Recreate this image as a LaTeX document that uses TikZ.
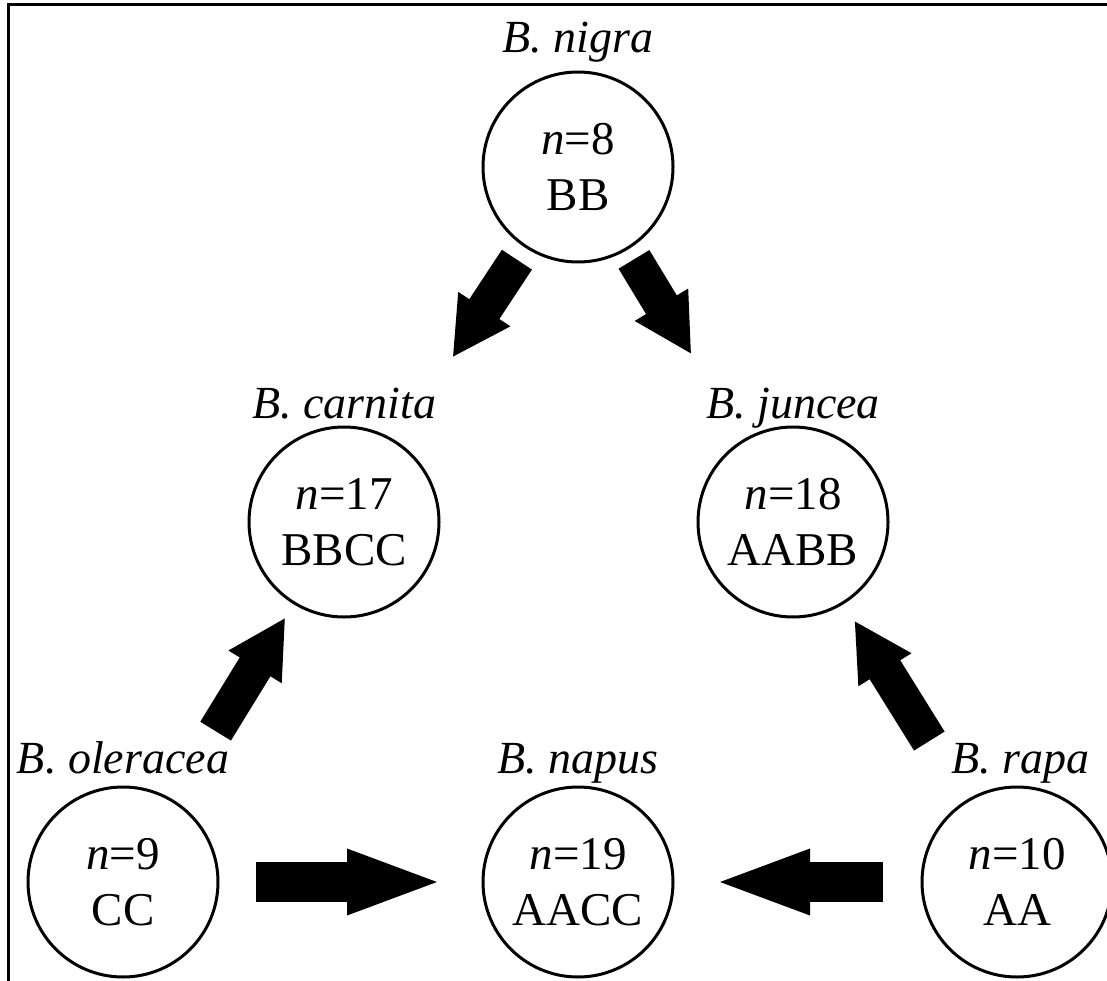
\documentclass[tikz,border=0pt]{standalone}
\usepackage{fontspec}
\setmainfont{Liberation Serif}
\usetikzlibrary{arrows.meta}
\tikzset{
  circ/.style={circle, draw, line width=3pt, minimum size=190pt, inner sep=0pt, outer sep=0pt, align=center, font=\fontsize{47}{56}\selectfont},
  lbl/.style={anchor=base, inner sep=0pt, font=\fontsize{46}{55}\selectfont\itshape},
  diagarrow/.style={line width=36pt, -{Triangle[length=58pt,width=58pt]}},
  horarrow/.style={line width=40pt, -{Triangle[length=98pt,width=58pt]}},
  frame/.style={line width=3pt}
}
\begin{document}
\begin{tikzpicture}[x=1pt,y=-1pt]
\useasboundingbox (0,0) rectangle (1107,981);
\draw[frame] (8,981) -- (8,5) -- (1107,5);
\node[circ] (nigra) at (578,167) {\textit{n}=8\\BB};
\node[circ] (carnita) at (344,522) {\textit{n}=17\\BBCC};
\node[circ] (juncea) at (793,522) {\textit{n}=18\\AABB};
\node[circ] (oleracea) at (123,882) {\textit{n}=9\\CC};
\node[circ] (napus) at (578,882) {\textit{n}=19\\AACC};
\node[circ] (rapa) at (1017,882) {\textit{n}=10\\AA};
\node[lbl] (lnigra) at (578,53) {B. nigra};
\node[lbl] (lcarnita) at (344,418) {B. carnita};
\node[lbl] (ljuncea) at (793,418) {B. juncea};
\node[lbl] (loleracea) at (123,773) {B. oleracea};
\node[lbl] (lnapus) at (578,773) {B. napus};
\node[lbl] (lrapa) at (1020,773) {B. rapa};
\draw[diagarrow, shorten <=16pt, shorten >=102pt] (nigra) -- (carnita);
\draw[diagarrow, shorten <=13pt, shorten >=101pt] (nigra) -- (juncea);
\draw[diagarrow, shorten <=82pt, shorten >=17pt] (oleracea) -- (carnita);
\draw[diagarrow, shorten <=71pt, shorten >=21pt] (rapa) -- (juncea);
\draw[horarrow, shorten <=38pt, shorten >=38pt] (oleracea) -- (napus);
\draw[horarrow, shorten <=39pt, shorten >=39pt] (rapa) -- (napus);
\end{tikzpicture}
\end{document}
